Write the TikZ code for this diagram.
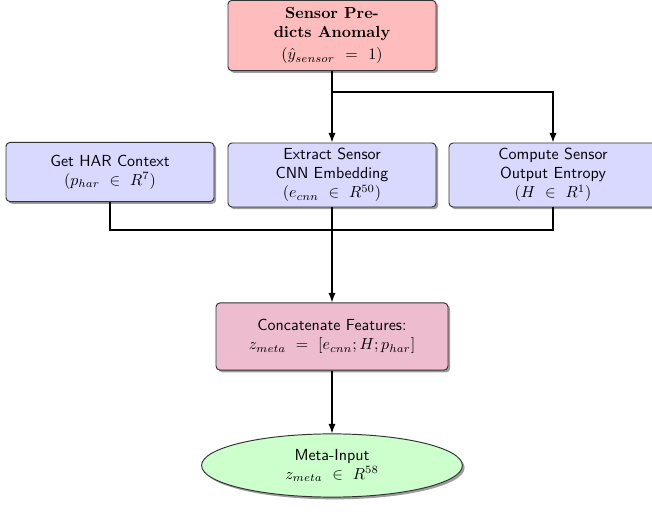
\documentclass[tikz,border=0pt]{standalone}
\usetikzlibrary{shadows,arrows.meta,shapes.geometric}
\definecolor{topfill}{RGB}{255,188,188}
\definecolor{midfill}{RGB}{217,217,255}
\definecolor{catfill}{RGB}{237,188,206}
\definecolor{outfill}{RGB}{204,255,204}
\begin{document}
\begin{tikzpicture}[x=0.625pt,y=0.625pt,
  boxbase/.style={draw=black!80,line width=0.6pt,rounded corners=2.5pt,align=center,
    inner sep=2pt,
    drop shadow={shadow xshift=1.4pt,shadow yshift=-1.4pt,opacity=0.55,fill=black!70}},
  topbox/.style={boxbase,fill=topfill,minimum width=130pt,minimum height=44pt,font=\bfseries},
  midbox/.style={boxbase,fill=midfill,minimum width=130pt,font=\sffamily},
  catbox/.style={boxbase,fill=catfill,minimum width=145pt,minimum height=42pt,font=\sffamily},
  outnode/.style={ellipse,draw=black!80,line width=0.6pt,fill=outfill,align=center,
    minimum width=163pt,minimum height=39.5pt,font=\sffamily,
    drop shadow={shadow xshift=1.4pt,shadow yshift=-1.4pt,opacity=0.55,fill=black!70}},
  conn/.style={line width=0.8pt,draw=black},
  arr/.style={conn,-{Latex[length=6pt,width=4.5pt]}}]
\useasboundingbox (0,0) rectangle (652,-515);
\node[topbox] (top) at (332,-35.5) {Sensor Pre-\\dicts Anomaly\\[2pt]$(\hat{y}_{sensor}\ =\ 1)$};
\node[midbox,minimum height=37pt] (har) at (110,-172) {Get HAR Context\\$(p_{har}\ \in\ R^{7})$};
\node[midbox,minimum height=40pt] (cnn) at (332,-175) {Extract Sensor\\CNN Embedding\\$(e_{cnn}\ \in\ R^{50})$};
\node[midbox,minimum height=40pt] (ent) at (553,-175) {Compute Sensor\\Output Entropy\\$(H\ \in\ R^{1})$};
\node[catbox] (cat) at (332,-336.5) {Concatenate Features:\\$z_{meta}\ =\ [e_{cnn};H;p_{har}]$};
\node[outnode] (out) at (332,-465.5) {Meta-Input\\$z_{meta}\ \in\ R^{58}$};
\coordinate (split) at (332,-92);
\coordinate (gather) at (332,-230);
\draw[arr] (top.south) -- (cnn.north);
\draw[arr] (split) -| (ent.north);
\draw[conn] (har.south) |- (gather);
\draw[conn] (ent.south) |- (gather);
\draw[arr] (cnn.south) -- (cat.north);
\draw[arr] (cat.south) -- (out.north);
\end{tikzpicture}
\end{document}
